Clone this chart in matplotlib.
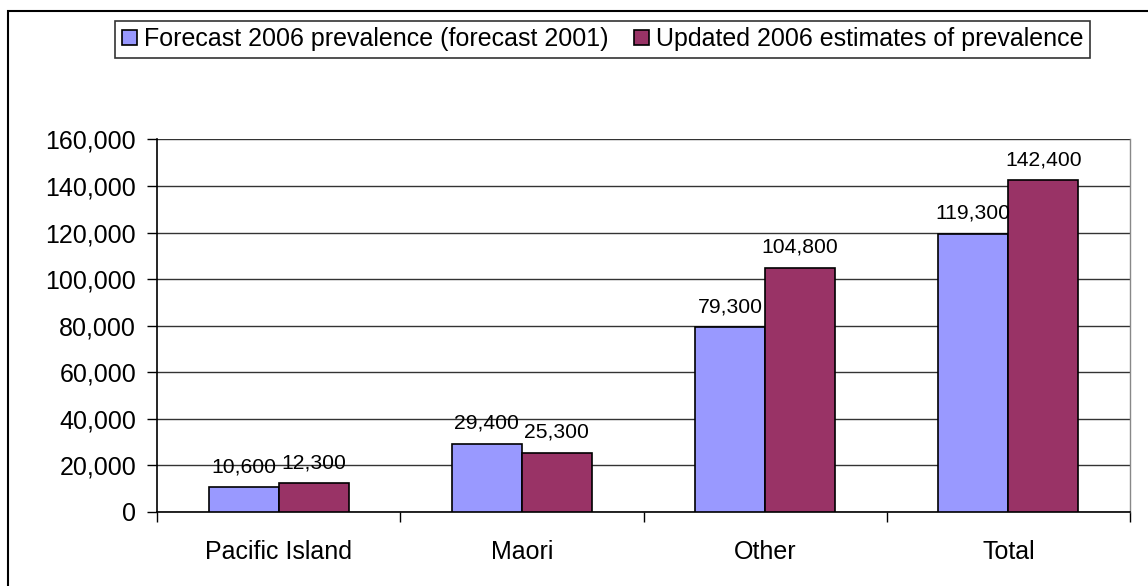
import matplotlib.pyplot as plt
import matplotlib.patches as mpatches
from matplotlib.ticker import FuncFormatter, FixedLocator
import numpy as np

plt.rcParams['font.family'] = ['Liberation Sans', 'DejaVu Sans']

categories = ['Pacific Island', 'Maori', 'Other', 'Total']
forecast_2001 = [10600, 29400, 79300, 119300]
updated_2006 = [12300, 25300, 104800, 142400]
series_names = ['Forecast 2006 prevalence (forecast 2001)',
                'Updated 2006 estimates of prevalence']
colors = ['#9999FF', '#993366']

fig = plt.figure(figsize=(11.48, 5.86), dpi=100)
ax = fig.add_axes([0.1368, 0.1263, 0.8475, 0.6357])

x = np.arange(len(categories))
w = 0.288
b1 = ax.bar(x - w / 2, forecast_2001, w, color=colors[0], edgecolor='black',
            linewidth=1.2, zorder=3, label=series_names[0])
b2 = ax.bar(x + w / 2, updated_2006, w, color=colors[1], edgecolor='black',
            linewidth=1.2, zorder=3, label=series_names[1])

# value labels above every bar
for bars, vals in ((b1, forecast_2001), (b2, updated_2006)):
    for rect, v in zip(bars, vals):
        ax.annotate(f'{v:,}', (rect.get_x() + rect.get_width() / 2, v),
                    xytext=(0, 11), textcoords='offset points',
                    ha='center', va='baseline', fontsize=15.2, zorder=4)

ax.set_xlim(-0.5, len(categories) - 0.5)
ax.set_ylim(0, 160000)
ax.set_yticks(np.arange(0, 160001, 20000))
ax.yaxis.set_major_formatter(FuncFormatter(lambda v, p: f'{int(v):,}'))
ax.grid(axis='y', color='#333333', linewidth=1.0, zorder=0)

ax.set_xticks(x)
ax.set_xticklabels(categories, fontsize=18)
ax.xaxis.set_minor_locator(FixedLocator(np.arange(-0.5, len(categories), 1.0)))
ax.tick_params(axis='x', which='major', length=0, pad=20)
ax.tick_params(axis='x', which='minor', length=7, width=1, direction='out')
ax.tick_params(axis='y', labelsize=18, length=7, width=1, pad=8)

ax.spines['right'].set_color('#888888')
ax.spines['right'].set_linewidth(1)
ax.spines['top'].set_visible(False)
ax.spines['left'].set_linewidth(1.2)
ax.spines['bottom'].set_linewidth(1.2)

leg = fig.legend(loc='center', bbox_to_anchor=(0.525, 0.933), ncol=2,
                 fontsize=18, frameon=True, fancybox=False, shadow=False,
                 handlelength=0.6, handleheight=0.6, handletextpad=0.3,
                 columnspacing=1.0, borderpad=0.25)
leg.get_frame().set_edgecolor('black')
leg.get_frame().set_linewidth(1.2)

# outer chart border
fig.patches.append(mpatches.Rectangle((8 / 1148, -0.05), 1.1, 1 - 11 / 586 + 0.05,
                                      transform=fig.transFigure, fill=False,
                                      edgecolor='black', linewidth=1.5))

fig.savefig('out.png', dpi=100)
